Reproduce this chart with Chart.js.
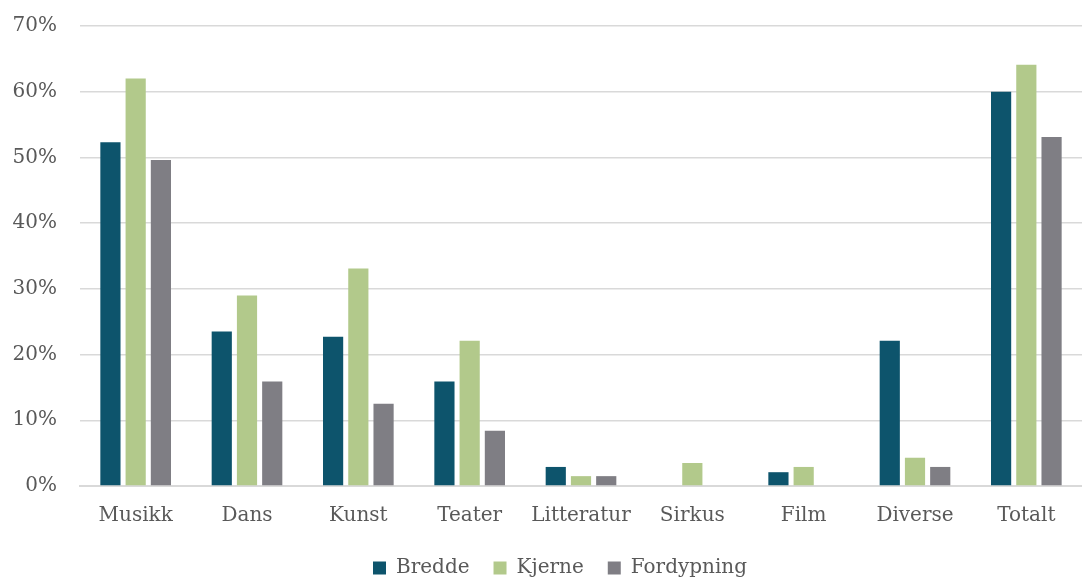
<!DOCTYPE html>
<html>
<head>
<meta charset="utf-8">
<script src="https://cdn.jsdelivr.net/npm/chart.js@4"></script>
<style>
  html, body { margin: 0; padding: 0; background: #ffffff; }
  #wrap { width: 1082px; height: 579px; }
</style>
</head>
<body>
<div id="wrap"><canvas id="chart"></canvas></div>
<script>
// Data
const categories = ['Musikk', 'Dans', 'Kunst', 'Teater', 'Litteratur', 'Sirkus', 'Film', 'Diverse', 'Totalt'];
const bredde = [52.3, 23.5, 22.7, 15.9, 2.9, 0, 2.1, 22.1, 60.0];
const kjerne = [62.0, 29.0, 33.1, 22.1, 1.5, 3.5, 2.9, 4.3, 64.1];
const fordypning = [49.6, 15.9, 12.5, 8.4, 1.5, 0, 0, 2.9, 53.1];
const yTicks = [0, 10, 20, 30, 40, 50, 60, 70];

const textColor = '#595959';
const fontFamily = "'DejaVu Serif', serif";

// move the legend a bit right and up, like the original
const legendShift = {
  id: 'legendShift',
  afterLayout(chart) {
    const lg = chart.legend;
    lg.left += 17;
    lg.right += 17;
    lg.top -= 12;
    lg.bottom -= 12;
  }
};

const ctx = document.getElementById('chart');

const chart = new Chart(ctx, {
  type: 'bar',
  data: {
    labels: categories,
    datasets: [
      { label: 'Bredde', data: bredde, backgroundColor: '#0d546c' },
      { label: 'Kjerne', data: kjerne, backgroundColor: '#b2c98b' },
      { label: 'Fordypning', data: fordypning, backgroundColor: '#7f7e84' }
    ]
  },
  plugins: [legendShift],
  options: {
    responsive: true,
    maintainAspectRatio: false,
    animation: false,
    layout: { padding: { top: 0, right: 0, left: 4, bottom: -21 } },
    datasets: {
      bar: { categoryPercentage: 0.68, barPercentage: 0.8 }
    },
    scales: {
      x: {
        grid: { display: false, drawTicks: false },
        border: { display: true, color: '#d9d9d9', width: 2 },
        ticks: { color: textColor, font: { family: fontFamily, size: 20 }, padding: 18 }
      },
      y: {
        min: 0,
        max: 70,
        afterBuildTicks: (axis) => { axis.ticks = yTicks.map(v => ({ value: v })); },
        afterFit: (axis) => {
          axis.width = 76;
          axis.paddingTop = 26;
        },
        grid: { color: '#d9d9d9', lineWidth: 1.5, drawTicks: false },
        border: { display: false },
        ticks: {
          color: textColor,
          font: { family: fontFamily, size: 20 },
          padding: 23,
          callback: (v) => v + '%'
        }
      }
    },
    plugins: {
      legend: {
        position: 'bottom',
        labels: {
          color: textColor,
          font: { family: fontFamily, size: 20 },
          boxWidth: 13,
          boxHeight: 13,
          padding: 24
        }
      },
      tooltip: { enabled: false }
    }
  }
});
</script>
</body>
</html>
